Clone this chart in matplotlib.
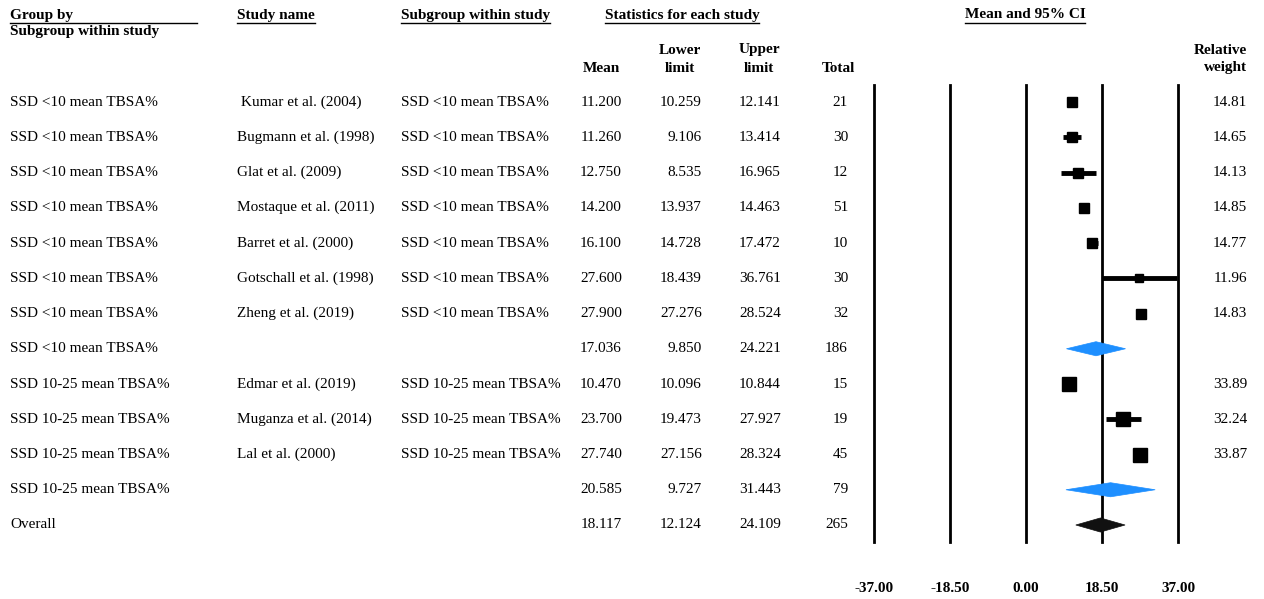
import matplotlib.pyplot as plt
import matplotlib.transforms as mtransforms
from matplotlib.lines import Line2D
from matplotlib.patches import Polygon
import numpy as np

plt.rcParams['font.family'] = ['Liberation Serif', 'DejaVu Serif']

# Data
groups = ['SSD <10 mean TBSA%'] * 8 + ['SSD 10-25 mean TBSA%'] * 4 + ['Overall']
studies = [' Kumar et al. (2004)', 'Bugmann et al. (1998)', 'Glat et al. (2009)',
           'Mostaque et al. (2011)', 'Barret et al. (2000)', 'Gotschall et al. (1998)',
           'Zheng et al. (2019)', '', 'Edmar et al. (2019)', 'Muganza et al. (2014)',
           'Lal et al. (2000)', '', '']
subgroups = ['SSD <10 mean TBSA%'] * 7 + [''] + ['SSD 10-25 mean TBSA%'] * 3 + ['', '']
means = [11.200, 11.260, 12.750, 14.200, 16.100, 27.600, 27.900, 17.036,
         10.470, 23.700, 27.740, 20.585, 18.117]
lowers = [10.259, 9.106, 8.535, 13.937, 14.728, 18.439, 27.276, 9.850,
          10.096, 19.473, 27.156, 9.727, 12.124]
uppers = [12.141, 13.414, 16.965, 14.463, 17.472, 36.761, 28.524, 24.221,
          10.844, 27.927, 28.324, 31.443, 24.109]
totals = [21, 30, 12, 51, 10, 30, 32, 186, 15, 19, 45, 79, 265]
weights = [14.81, 14.65, 14.13, 14.85, 14.77, 11.96, 14.83, None,
           33.89, 32.24, 33.87, None, None]
kinds = ['study'] * 7 + ['sub'] + ['study'] * 3 + ['sub', 'overall']
xticks = [-37.0, -18.5, 0.0, 18.5, 37.0]

W, H = 1264, 599
fig = plt.figure(figsize=(W / 100, H / 100), dpi=100)

# forest axes in pixel placement
x0, x1 = 874, 1178
y_top, y_bot = 85, 542
ax = fig.add_axes([x0 / W, 1 - y_bot / H, (x1 - x0) / W, (y_bot - y_top) / H])
n = len(means)
row0, row_step = 102, (525 - 102) / 12
ax.set_xlim(-37, 37)
ax.set_ylim((y_bot - row0) / row_step, (y_top - row0) / row_step)
for s in ax.spines.values():
    s.set_visible(False)
ax.set_yticks([])
ax.set_xticks(xticks)
ax.set_xticklabels(['%.2f' % t for t in xticks], fontsize=11, fontweight='bold')
ax.tick_params(axis='x', length=0, pad=29)
for t in xticks:
    ax.axvline(t, color='black', lw=2, zorder=1, clip_on=False)

for i in range(n):
    m, lo, hi = means[i], lowers[i], uppers[i]
    if kinds[i] == 'study':
        ax.plot([max(lo, -37), min(hi, 37)], [i, i], color='black', lw=3.5,
                solid_capstyle='butt', zorder=3)
        ms = 2.4 * np.sqrt(weights[i]) * 0.72
        ax.plot(m, i, marker='s', color='black', markersize=ms, zorder=4)
    else:
        col = '#1e8fff' if kinds[i] == 'sub' else '#111111'
        hh = 0.2
        ax.add_patch(Polygon([[lo, i], [m, i - hh], [hi, i], [m, i + hh]],
                             closed=True, facecolor=col, edgecolor=col, lw=0.5, zorder=4))

# text columns
tr = mtransforms.blended_transform_factory(fig.transFigure, ax.transData)
def fx(px):
    return px / W

fs = 11
for i in range(n):
    ax.text(fx(10), i, groups[i], transform=tr, fontsize=fs, va='center', ha='left', clip_on=False)
    ax.text(fx(237), i, studies[i], transform=tr, fontsize=fs, va='center', ha='left', clip_on=False)
    ax.text(fx(401), i, subgroups[i], transform=tr, fontsize=fs, va='center', ha='left', clip_on=False)
    ax.text(fx(622), i, '%.3f' % means[i], transform=tr, fontsize=fs, va='center', ha='right', clip_on=False)
    ax.text(fx(702), i, '%.3f' % lowers[i], transform=tr, fontsize=fs, va='center', ha='right', clip_on=False)
    ax.text(fx(781), i, '%.3f' % uppers[i], transform=tr, fontsize=fs, va='center', ha='right', clip_on=False)
    ax.text(fx(848), i, str(totals[i]), transform=tr, fontsize=fs, va='center', ha='right', clip_on=False)
    if weights[i] is not None:
        ax.text(fx(1247), i, '%.2f' % weights[i], transform=tr, fontsize=fs, va='center', ha='right', clip_on=False)

# headers (figure pixel coords, y from top)
def htext(px, py, s, ha='left', underline=False, line_to=None):
    t = fig.text(px / W, 1 - py / H, s, fontsize=fs, fontweight='bold', ha=ha, va='center',
                 multialignment='center' if ha == 'center' else ha, linespacing=1.5)
    if underline:
        fig.canvas.draw()
        bb = t.get_window_extent()
        xa = bb.x0
        xb = bb.x1 if line_to is None else line_to
        yl = bb.y0 - 1
        fig.add_artist(Line2D([xa / W, xb / W], [yl / H, yl / H], transform=fig.transFigure,
                              color='black', lw=1))
    return t

htext(10, 15, 'Group by', underline=True, line_to=197)
htext(10, 32, 'Subgroup within study')
htext(237, 15, 'Study name', underline=True)
htext(401, 15, 'Subgroup within study', underline=True)
htext(682, 15, 'Statistics for each study', ha='center', underline=True)
htext(1025, 15, 'Mean and 95% CI', ha='center', underline=True)
htext(620, 68, 'Mean', ha='right')
htext(680, 59, 'Lower\nlimit', ha='center')
htext(759, 59, 'Upper\nlimit', ha='center')
htext(838, 68, 'Total', ha='center')
htext(1247, 59, 'Relative\nweight', ha='right')

fig.savefig('out.png', dpi=100)
